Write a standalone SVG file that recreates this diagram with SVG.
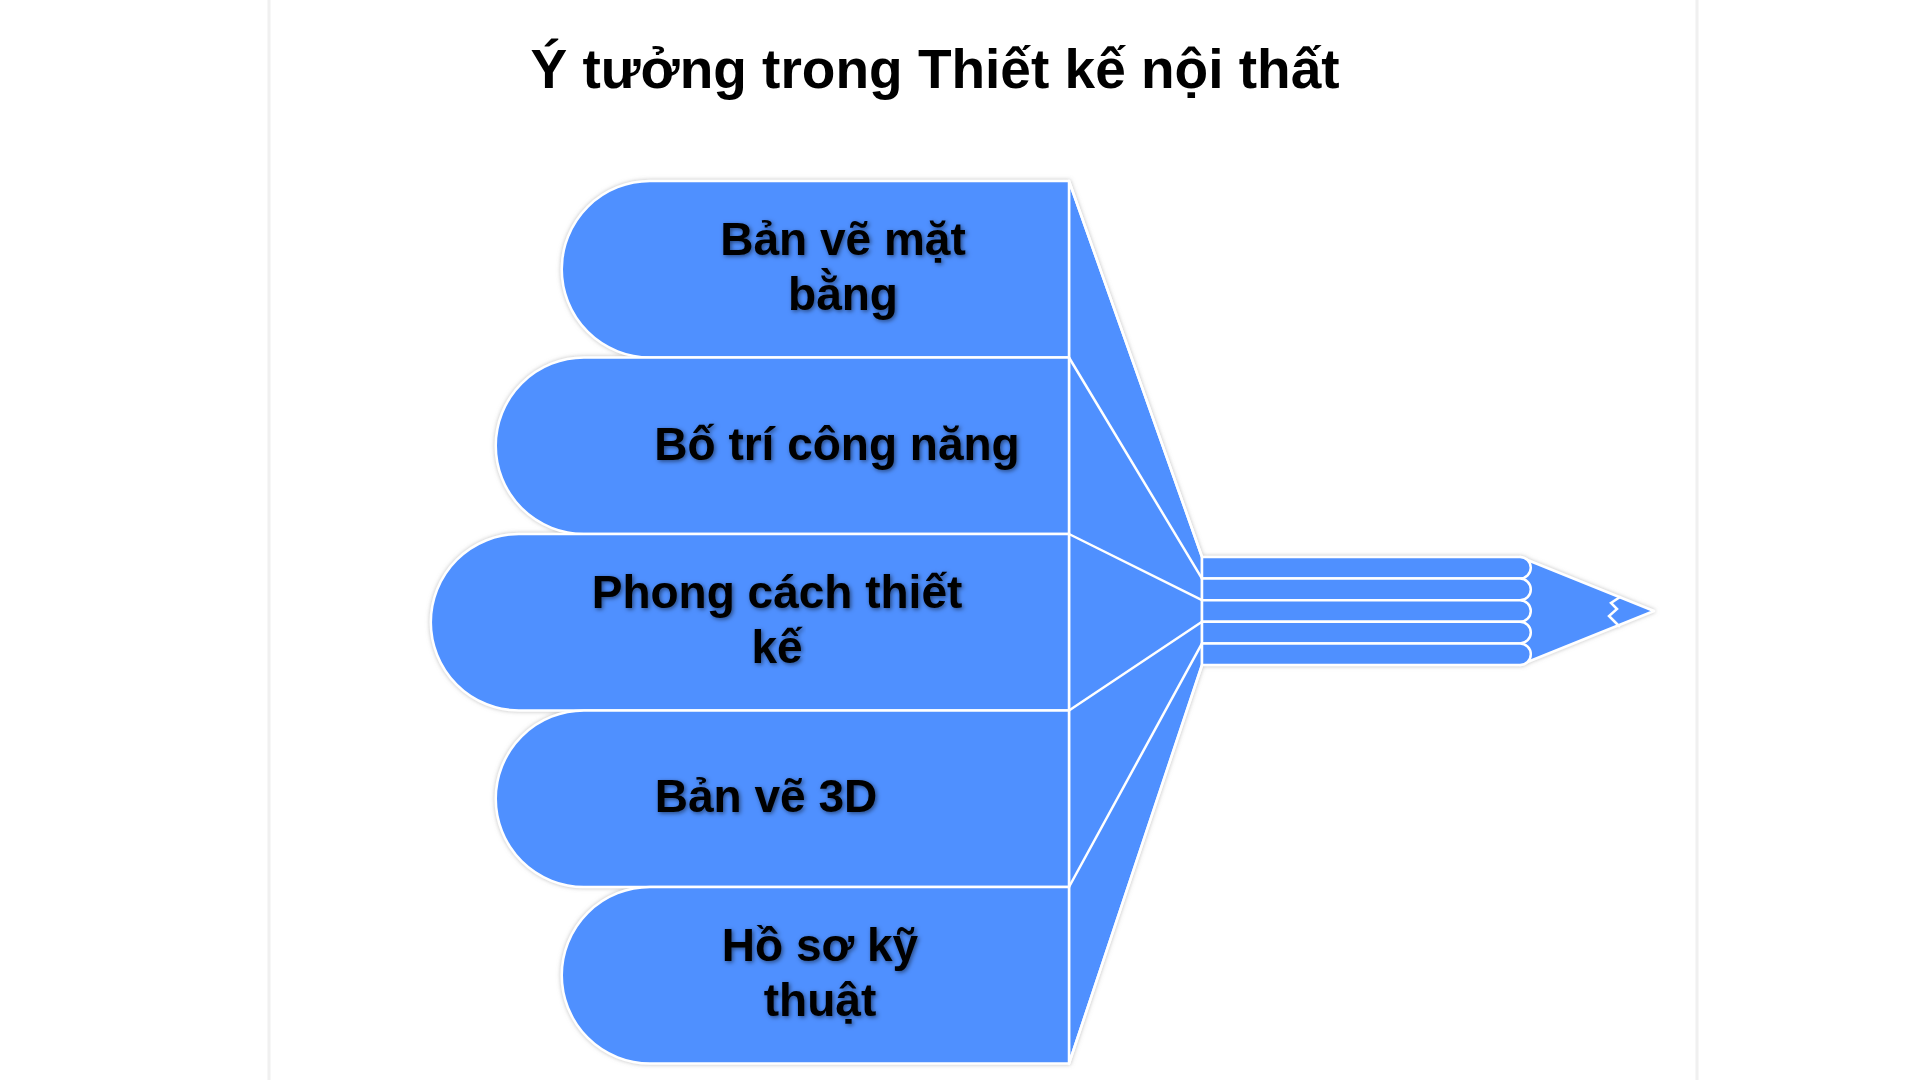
<svg xmlns="http://www.w3.org/2000/svg" width="1920" height="1080" viewBox="0 0 1920 1080">
<defs>
<filter id="glow" x="-5%" y="-5%" width="110%" height="110%">
<feDropShadow dx="0" dy="0" stdDeviation="2" flood-color="#8a8a8a" flood-opacity="0.55"/>
</filter>
<filter id="tshadow" x="-5%" y="-20%" width="110%" height="140%">
<feDropShadow dx="1.5" dy="1.5" stdDeviation="2" flood-color="#000" flood-opacity="0.5"/>
</filter>
</defs>
<style>
.shape{fill:#4F90FF;stroke:#FFFFFF;stroke-width:2.5;stroke-linejoin:round}
.line{stroke:#FFFFFF;stroke-width:2.5;fill:none;stroke-linecap:round}
.lbl{font-family:"Liberation Sans",Arial,sans-serif;font-weight:bold;font-size:46px;fill:#000;text-anchor:middle;filter:url(#tshadow)}
.title{font-family:"Liberation Sans",Arial,sans-serif;font-weight:bold;font-size:55px;fill:#000;text-anchor:middle}
.border{stroke:#F0F0F0;stroke-width:3}
</style>
<rect width="1920" height="1080" fill="#FFFFFF"/>
<line class="border" x1="269" y1="0" x2="269" y2="1080"/>
<line class="border" x1="1697" y1="0" x2="1697" y2="1080"/>
<text class="title" x="935" y="88">Ý tưởng trong Thiết kế nội thất</text>
<g id="diagram" filter="url(#glow)">
<g id="pencil">
<polygon class="shape" points="1069,181 1202,557 1202,665 1069,1063.5"/>
<polygon class="shape" points="1520,557 1654,611 1520,665"/>
<path class="shape" d="M1202,557 H1520 A10.8 10.8 0 0 1 1520,578.6 H1202 Z"/>
<path class="shape" d="M1202,578.6 H1520 A10.8 10.8 0 0 1 1520,600.2 H1202 Z"/>
<path class="shape" d="M1202,600.2 H1520 A10.8 10.8 0 0 1 1520,621.8 H1202 Z"/>
<path class="shape" d="M1202,621.8 H1520 A10.8 10.8 0 0 1 1520,643.4 H1202 Z"/>
<path class="shape" d="M1202,643.4 H1520 A10.8 10.8 0 0 1 1520,665 H1202 Z"/>
<polyline class="line" points="1620,597 1611,603 1617,609 1609,616 1616,623 1619,626"/>
</g>
<g id="connectors">
<line class="line" x1="1069" y1="181" x2="1202" y2="557"/>
<line class="line" x1="1069" y1="357.5" x2="1202" y2="578.6"/>
<line class="line" x1="1069" y1="534" x2="1202" y2="600.2"/>
<line class="line" x1="1069" y1="710.5" x2="1202" y2="621.8"/>
<line class="line" x1="1069" y1="887" x2="1202" y2="643.4"/>
<line class="line" x1="1069" y1="1063.5" x2="1202" y2="665"/>
</g>
<g id="node1">
<path class="shape" d="M1069,181 H650 A88.25 88.25 0 0 0 650,357.5 H1069 Z"/>
</g>
<g id="node2">
<path class="shape" d="M1069,357.5 H584 A88.25 88.25 0 0 0 584,534 H1069 Z"/>
</g>
<g id="node3">
<path class="shape" d="M1069,534 H519 A88.25 88.25 0 0 0 519,710.5 H1069 Z"/>
</g>
<g id="node4">
<path class="shape" d="M1069,710.5 H584 A88.25 88.25 0 0 0 584,887 H1069 Z"/>
</g>
<g id="node5">
<path class="shape" d="M1069,887 H650 A88.25 88.25 0 0 0 650,1063.5 H1069 Z"/>
</g>
</g>
<g id="labels">
<text class="lbl" x="843" y="255">Bản vẽ mặt</text>
<text class="lbl" x="843" y="310">bằng</text>
<text class="lbl" x="837" y="459.5">Bố trí công năng</text>
<text class="lbl" x="777" y="608">Phong cách thiết</text>
<text class="lbl" x="777" y="663">kế</text>
<text class="lbl" x="766" y="812">Bản vẽ 3D</text>
<text class="lbl" x="820" y="961">Hồ sơ kỹ</text>
<text class="lbl" x="820" y="1016">thuật</text>
</g>
</svg>
